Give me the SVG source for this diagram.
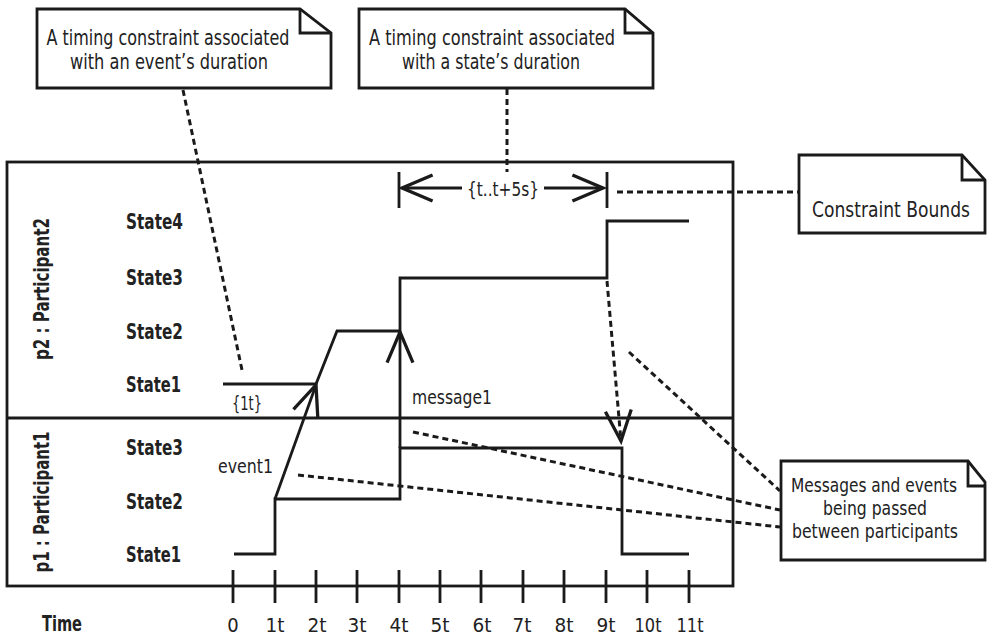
<svg xmlns="http://www.w3.org/2000/svg" width="988" height="640" viewBox="0 0 988 640">
<style>
text{font-family:"Liberation Sans Narrow","DejaVu Sans Condensed","Liberation Sans",sans-serif;fill:#222}
.note{font-size:21px}
.note2{font-size:19px}
.lbl{font-size:19px}
.st{font-size:21px;font-weight:bold}
.tk{font-size:20px}
.ln{fill:none;stroke:#1a1a1a;stroke-width:2.8}
.box{fill:#fff;stroke:#1a1a1a;stroke-width:2.8}
.ds{fill:none;stroke:#1a1a1a;stroke-width:3;stroke-dasharray:6 4}
</style>
<defs>
<marker id="v" markerUnits="userSpaceOnUse" markerWidth="40" markerHeight="40" viewBox="-30 -16 34 32" refX="0" refY="0" orient="auto">
<path d="M-26,-11 L0,0 L-26,11" fill="none" stroke="#1a1a1a" stroke-width="2.8"/>
</marker>
</defs>
<rect width="988" height="640" fill="#fff"/>
<g id="frame">
<rect x="7" y="162" width="726" height="424" class="ln"/>
<line x1="7" y1="418" x2="733" y2="418" class="ln"/>
</g>
<g id="p2">
<text class="st" transform="translate(49,289) rotate(-90)" text-anchor="middle" textLength="142" lengthAdjust="spacingAndGlyphs">p2 : Participant2</text>
<text class="st" x="126" y="229" textLength="57" lengthAdjust="spacingAndGlyphs">State4</text>
<text class="st" x="126" y="285" textLength="57" lengthAdjust="spacingAndGlyphs">State3</text>
<text class="st" x="126" y="339" textLength="57" lengthAdjust="spacingAndGlyphs">State2</text>
<text class="st" x="126" y="392" textLength="55" lengthAdjust="spacingAndGlyphs">State1</text>
<polyline class="ln" points="223,384 316,384 337,331 400,331 400,278 607,278 607,221 689,221"/>
<text class="lbl" x="232" y="410" textLength="30" lengthAdjust="spacingAndGlyphs">{1t}</text>
</g>
<g id="p1">
<text class="st" transform="translate(49,502) rotate(-90)" text-anchor="middle" textLength="141" lengthAdjust="spacingAndGlyphs">p1 : Participant1</text>
<text class="st" x="126" y="455" textLength="57" lengthAdjust="spacingAndGlyphs">State3</text>
<text class="st" x="126" y="509" textLength="57" lengthAdjust="spacingAndGlyphs">State2</text>
<text class="st" x="126" y="562" textLength="55" lengthAdjust="spacingAndGlyphs">State1</text>
<polyline class="ln" points="234,554 275,554 275,499 400,499 400,448 622,448 622,554 689,554"/>
<text class="lbl" x="218" y="473" textLength="55" lengthAdjust="spacingAndGlyphs">event1</text>
<text class="lbl" x="412" y="404" textLength="80" lengthAdjust="spacingAndGlyphs">message1</text>
</g>
<g id="axis">
<text class="st" x="42" y="631" textLength="40" lengthAdjust="spacingAndGlyphs">Time</text>
<path class="ln" d="M233,570V603M275,570V603M316,570V603M357,570V603M399,570V603M440,570V603M481,570V603M523,570V603M564,570V603M606,570V603M647,570V603M689,570V603"/>
<g class="tk" text-anchor="middle">
<text x="233" y="632">0</text>
<text x="275" y="632" textLength="19" lengthAdjust="spacingAndGlyphs">1t</text>
<text x="317" y="632" textLength="19" lengthAdjust="spacingAndGlyphs">2t</text>
<text x="357" y="632" textLength="19" lengthAdjust="spacingAndGlyphs">3t</text>
<text x="399" y="632" textLength="19" lengthAdjust="spacingAndGlyphs">4t</text>
<text x="440" y="632" textLength="19" lengthAdjust="spacingAndGlyphs">5t</text>
<text x="482" y="632" textLength="19" lengthAdjust="spacingAndGlyphs">6t</text>
<text x="522" y="632" textLength="19" lengthAdjust="spacingAndGlyphs">7t</text>
<text x="564" y="632" textLength="19" lengthAdjust="spacingAndGlyphs">8t</text>
<text x="606" y="632" textLength="19" lengthAdjust="spacingAndGlyphs">9t</text>
<text x="648" y="632" textLength="27" lengthAdjust="spacingAndGlyphs">10t</text>
<text x="690" y="632" textLength="27" lengthAdjust="spacingAndGlyphs">11t</text>
</g>
</g>
<g id="note-event">
<path class="box" d="M37,9H300L331,33V88H37Z"/>
<path class="ln" d="M300,9V33H331"/>
<text class="note" x="168" y="45" text-anchor="middle" textLength="243" lengthAdjust="spacingAndGlyphs">A timing constraint associated</text>
<text class="note" x="169" y="69" text-anchor="middle" textLength="198" lengthAdjust="spacingAndGlyphs">with an event’s duration</text>
</g>
<g id="note-state">
<path class="box" d="M359,9H625L653,33V88H359Z"/>
<path class="ln" d="M625,9V33H653"/>
<text class="note" x="492" y="45" text-anchor="middle" textLength="246" lengthAdjust="spacingAndGlyphs">A timing constraint associated</text>
<text class="note" x="491" y="69" text-anchor="middle" textLength="178" lengthAdjust="spacingAndGlyphs">with a state’s duration</text>
</g>
<g id="note-bounds">
<path class="box" d="M799,155H962L985,180V233H799Z"/>
<path class="ln" d="M962,155V180H985"/>
<text class="note" x="891" y="217" text-anchor="middle" textLength="158" lengthAdjust="spacingAndGlyphs">Constraint Bounds</text>
</g>
<g id="note-messages">
<path class="box" d="M781,461H968L985,482V560H781Z"/>
<path class="ln" d="M968,461V486H985"/>
<text class="note2" x="874" y="492" text-anchor="middle" textLength="166" lengthAdjust="spacingAndGlyphs">Messages and events</text>
<text class="note2" x="875" y="515" text-anchor="middle" textLength="104" lengthAdjust="spacingAndGlyphs">being passed</text>
<text class="note2" x="875" y="538" text-anchor="middle" textLength="166" lengthAdjust="spacingAndGlyphs">between participants</text>
</g>
<g id="constraint">
<path class="ln" d="M399,172V208M607,172V208"/>
<text class="lbl" x="503" y="196" text-anchor="middle" textLength="72" lengthAdjust="spacingAndGlyphs">{t..t+5s}</text>
</g>
<g id="connectors">
<line class="ln" x1="275" y1="499" x2="316" y2="385" marker-end="url(#v)"/>
<line class="ln" x1="400" y1="448" x2="400" y2="332" marker-end="url(#v)"/>
<line class="ds" x1="607" y1="281" x2="621" y2="441" marker-end="url(#v)"/>
<line class="ln" x1="462" y1="188" x2="402" y2="188" marker-end="url(#v)"/>
<line class="ln" x1="544" y1="188" x2="603" y2="188" marker-end="url(#v)"/>
<line class="ds" x1="183" y1="90" x2="242" y2="370"/>
<line class="ds" x1="507" y1="89" x2="507" y2="172"/>
<line class="ds" x1="617" y1="192" x2="798" y2="192"/>
<line class="ds" x1="629" y1="352" x2="780" y2="491"/>
<line class="ds" x1="413" y1="432" x2="780" y2="510"/>
<line class="ds" x1="298" y1="475" x2="780" y2="527"/>
</g>
</svg>
